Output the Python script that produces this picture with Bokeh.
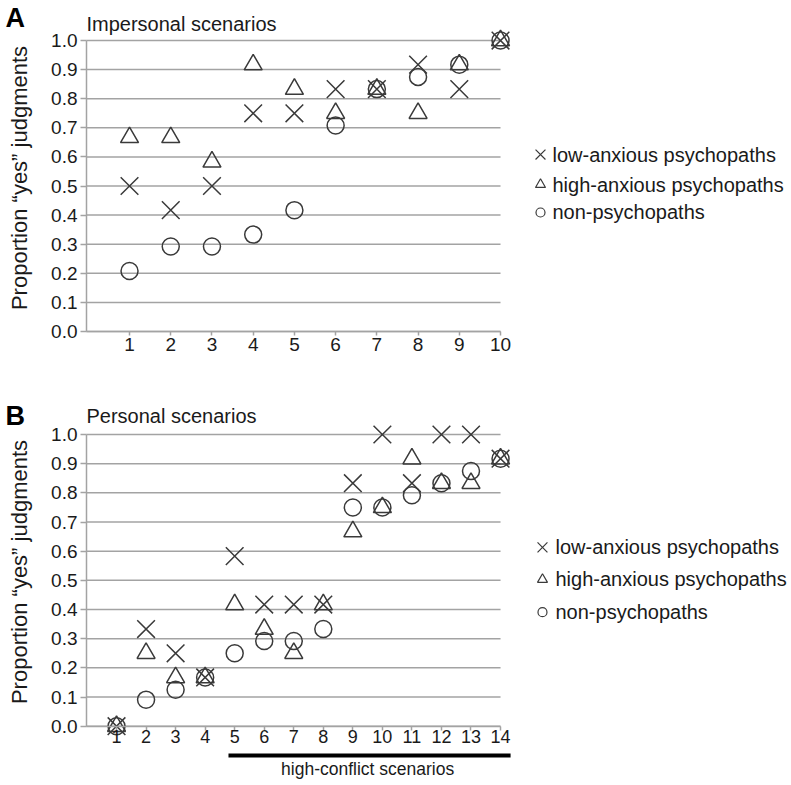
import math
from bokeh.plotting import figure
from bokeh.layouts import column
from bokeh.models import Range1d, FixedTicker, PrintfTickFormatter
from bokeh.core.properties import value
from bokeh.embed import file_html
from bokeh.resources import INLINE

FONT = "Liberation Sans"
MARK = "#3a3a3a"
GRID = "#a3a3a3"
TXT = "#1a1a1a"

# ---------------- data ----------------
y_ticks = [0.0, 0.1, 0.2, 0.3, 0.4, 0.5, 0.6, 0.7, 0.8, 0.9, 1.0]
series_names = ["low-anxious psychopaths", "high-anxious psychopaths", "non-psychopaths"]
series_markers = ["x", "triangle", "circle"]
y_title = "Proportion \u201cyes\u201d judgments"

imp_letter = "A"
imp_title = "Impersonal scenarios"
imp_scen = [1, 2, 3, 4, 5, 6, 7, 8, 9, 10]
imp_low = [0.5, 0.417, 0.5, 0.75, 0.75, 0.833, 0.833, 0.917, 0.833, 1.0]
imp_high = [0.667, 0.667, 0.583, 0.917, 0.833, 0.75, 0.833, 0.75, 0.917, 1.0]
imp_non = [0.208, 0.292, 0.292, 0.333, 0.417, 0.708, 0.833, 0.875, 0.917, 1.0]

per_letter = "B"
per_title = "Personal scenarios"
per_scen = [1, 2, 3, 4, 5, 6, 7, 8, 9, 10, 11, 12, 13, 14]
per_low = [0.0, 0.333, 0.25, 0.167, 0.583, 0.417, 0.417, 0.417, 0.833, 1.0, 0.833, 1.0, 1.0, 0.917]
per_high = [0.0, 0.25, 0.167, 0.167, 0.417, 0.333, 0.25, 0.417, 0.667, 0.75, 0.917, 0.833, 0.833, 0.917]
per_non = [0.0, 0.091, 0.125, 0.167, 0.25, 0.292, 0.292, 0.333, 0.75, 0.75, 0.792, 0.833, 0.875, 0.917]

high_conflict = [5, 14]
high_conflict_label = "high-conflict scenarios"


def make_panel(width, height, x_range, y_range, axis_x0, scen, low, high, non,
               xlab_size, xlab_standoff, letter, title, letter_xy, title_y,
               ytitle_xy, legend_mx, legend_tx, legend_rows):
    p = figure(width=width, height=height, x_range=Range1d(*x_range),
               y_range=Range1d(*y_range), output_backend="svg",
               toolbar_location=None, tools="",
               min_border_left=0, min_border_right=0,
               min_border_top=0, min_border_bottom=0)
    p.outline_line_color = None
    p.xgrid.visible = False
    p.ygrid.visible = False

    # horizontal grid lines, only over the plotting area
    p.segment(x0=[axis_x0] * len(y_ticks), y0=y_ticks,
              x1=[scen[-1]] * len(y_ticks), y1=y_ticks,
              line_color=GRID, line_width=1.5, level="underlay")

    # y axis
    yax = p.yaxis[0]
    yax.fixed_location = axis_x0
    yax.ticker = FixedTicker(ticks=y_ticks)
    yax.formatter = PrintfTickFormatter(format="%.1f")
    yax.bounds = (0, 1)
    yax.axis_line_color = GRID
    yax.axis_line_width = 1.5
    yax.major_tick_line_color = GRID
    yax.major_tick_line_width = 1.5
    yax.major_tick_out = 6
    yax.major_tick_in = 0
    yax.minor_tick_out = 0
    yax.minor_tick_in = 0
    yax.major_label_standoff = 3
    yax.major_label_text_font = FONT
    yax.major_label_text_font_size = "19px"
    yax.major_label_text_color = TXT

    # x axis
    xax = p.xaxis[0]
    xax.fixed_location = 0
    xax.ticker = FixedTicker(ticks=scen)
    xax.bounds = (axis_x0, scen[-1])
    xax.axis_line_color = GRID
    xax.axis_line_width = 1.5
    xax.major_tick_line_color = GRID
    xax.major_tick_line_width = 1.5
    xax.major_tick_out = 4
    xax.major_tick_in = 0
    xax.minor_tick_out = 0
    xax.minor_tick_in = 0
    xax.major_label_standoff = xlab_standoff
    xax.major_label_text_font = FONT
    xax.major_label_text_font_size = xlab_size
    xax.major_label_text_color = TXT

    # data
    p.scatter(scen, non, marker="circle", size=17, fill_color=None,
              line_color=MARK, line_width=1.5)
    p.scatter(scen, high, marker="triangle", size=18, fill_color=None,
              line_color=MARK, line_width=1.5)
    p.scatter(scen, low, marker="x", size=25, line_color=MARK, line_width=1.5)

    # legend
    leg_sizes = [14, 10, 9]
    for name, mk, sz, ry in zip(series_names, series_markers, leg_sizes, legend_rows):
        p.scatter([legend_mx], [ry], marker=mk, size=sz, fill_color=None,
                  line_color=MARK, line_width=1.2)
        p.text([legend_tx], [ry], text=[name], text_font=value(FONT),
               text_font_size="20px", text_baseline="middle",
               text_align="left", text_color=TXT)

    # y-axis title (rotated)
    p.text([ytitle_xy[0]], [ytitle_xy[1]], text=[y_title], angle=math.pi / 2,
           text_font=value(FONT), text_font_size="22px", text_color=TXT,
           text_align="center", text_baseline="middle")

    # panel letter and title
    p.text([letter_xy[0]], [letter_xy[1]], text=[letter], text_font=value(FONT),
           text_font_size="27px", text_font_style="bold", text_color="#000000",
           text_baseline="middle", text_align="left")
    p.text([axis_x0], [title_y], text=[title], text_font=value(FONT),
           text_font_size="20px", text_color=TXT,
           text_baseline="middle", text_align="left")
    return p


# ---------------- panel A ----------------
pa = make_panel(791, 380, (-2.130, 17.059), (-0.1684, 1.1375), -0.044,
                imp_scen, imp_low, imp_high, imp_non, "19px", 3,
                imp_letter, imp_title, (-2.009, 1.0773), 1.0557,
                (-1.667, 0.5275),
                10.97, 11.26, [0.608, 0.505, 0.409])

# ---------------- panel B ----------------
pb = make_panel(791, 405, (-2.928, 23.85), (-0.2033, 1.1851), -0.017,
                per_scen, per_low, per_high, per_non, "18px", 0,
                per_letter, per_title, (-2.759, 1.0651), 1.0638,
                (-2.285, 0.5286),
                15.42, 15.86, [0.613, 0.503, 0.391])

# high-conflict scenarios bar and caption
pb.segment(x0=[high_conflict[0] - 0.21], y0=[-0.1005],
           x1=[high_conflict[1] + 0.34], y1=[-0.1005],
           line_color="#000000", line_width=4)
pb.text([(high_conflict[0] + high_conflict[1]) / 2], [-0.1484],
        text=[high_conflict_label], text_font=value(FONT),
        text_font_size="17.5px", text_color=TXT,
        text_align="center", text_baseline="middle")

layout = column(pa, pb, spacing=0)
open("out.html", "w").write(file_html(layout, INLINE))
